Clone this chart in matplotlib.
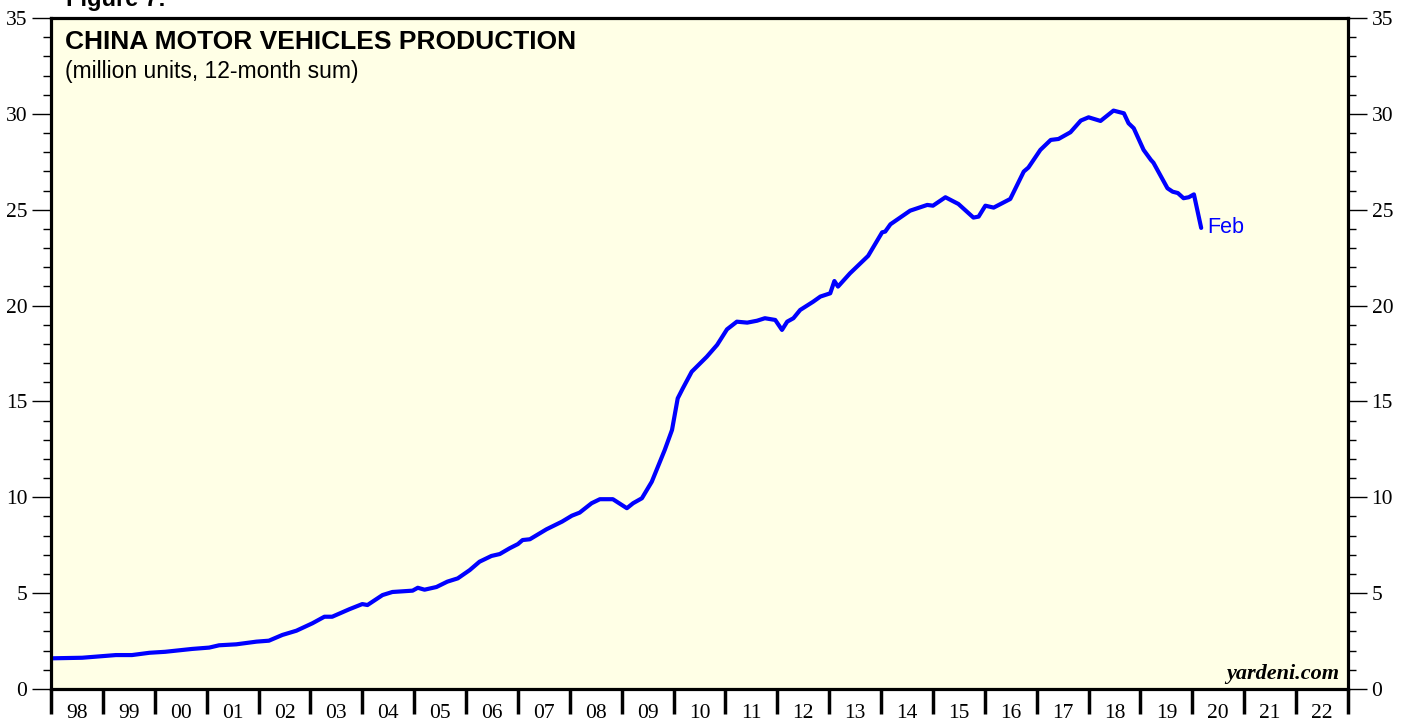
import numpy as np
import matplotlib
matplotlib.use("Agg")
import matplotlib.pyplot as plt
from matplotlib.ticker import MultipleLocator, FixedLocator, NullFormatter

# ── DATA (decimal year, million units) ─────────────────────────
dates = [
    1998.00, 1998.60, 1999.25, 1999.56, 1999.90, 2000.20, 2000.72, 2001.05,
    2001.24, 2001.57, 2001.96, 2002.20, 2002.46, 2002.73, 2003.04, 2003.27,
    2003.42, 2003.75, 2004.00, 2004.10, 2004.39, 2004.58, 2004.97, 2005.07,
    2005.20, 2005.43, 2005.64, 2005.84, 2006.07, 2006.26, 2006.49, 2006.65,
    2006.84, 2007.00, 2007.09, 2007.23, 2007.55, 2007.85, 2008.04, 2008.19,
    2008.42, 2008.58, 2008.83, 2009.10, 2009.22, 2009.39, 2009.58, 2009.83,
    2009.97, 2010.08, 2010.18, 2010.35, 2010.64, 2010.84, 2011.03, 2011.22,
    2011.42, 2011.61, 2011.76, 2011.96, 2012.09, 2012.19, 2012.31, 2012.44,
    2012.69, 2012.83, 2013.02, 2013.10, 2013.17, 2013.40, 2013.75, 2014.02,
    2014.08, 2014.18, 2014.56, 2014.89, 2015.00, 2015.24, 2015.49, 2015.78,
    2015.88, 2016.01, 2016.17, 2016.49, 2016.75, 2016.84, 2017.07, 2017.27,
    2017.42, 2017.65, 2017.85, 2018.00, 2018.23, 2018.48, 2018.68, 2018.77,
    2018.87, 2019.06, 2019.20, 2019.25, 2019.52, 2019.62, 2019.72, 2019.83,
    2019.93, 2020.03, 2020.17,
]
production = [
    1.60, 1.63, 1.77, 1.77, 1.89, 1.94, 2.09, 2.16,
    2.28, 2.33, 2.47, 2.52, 2.82, 3.04, 3.43, 3.77,
    3.77, 4.16, 4.43, 4.38, 4.90, 5.06, 5.13, 5.28,
    5.18, 5.32, 5.60, 5.77, 6.20, 6.64, 6.94, 7.04,
    7.34, 7.56, 7.77, 7.81, 8.33, 8.73, 9.04, 9.20,
    9.69, 9.90, 9.90, 9.43, 9.69, 9.95, 10.81, 12.47,
    13.51, 15.16, 15.69, 16.55, 17.33, 17.95, 18.76, 19.16,
    19.11, 19.21, 19.34, 19.25, 18.73, 19.16, 19.34, 19.77,
    20.20, 20.47, 20.64, 21.28, 20.99, 21.68, 22.59, 23.82,
    23.86, 24.24, 24.95, 25.25, 25.21, 25.65, 25.30, 24.59,
    24.64, 25.21, 25.11, 25.56, 26.99, 27.20, 28.12, 28.64,
    28.69, 29.04, 29.65, 29.82, 29.63, 30.17, 30.03, 29.51,
    29.25, 28.12, 27.60, 27.45, 26.12, 25.94, 25.87, 25.60,
    25.65, 25.80, 24.05,
]
years = list(range(1998, 2023))
year_labels = [f"{y % 100:02d}" for y in years]

TITLE = "CHINA MOTOR VEHICLES PRODUCTION"
SUBTITLE = "(million units, 12-month sum)"
LAST_LABEL = "Feb"

# ── FIGURE ───────────────────────────────────────────────────
fig = plt.figure(figsize=(14.08, 7.21), dpi=100)
ax = fig.add_axes([51 / 1408, 1 - 689 / 721, (1348 - 51) / 1408, (689 - 18) / 721])
ax.set_facecolor("#FFFFE6")

ax.plot(dates, production, color="#0000FF", lw=3.0, solid_joinstyle="round",
        solid_capstyle="round")
ax.text(dates[-1] + 0.12, production[-1], LAST_LABEL, color="#0000FF",
        fontsize=15.5, family="Liberation Sans", va="center", ha="left")

ax.set_xlim(1998, 2023)
ax.set_ylim(0, 35)

# y axis: ticks both sides, outward
ax.yaxis.set_major_locator(MultipleLocator(5))
ax.yaxis.set_minor_locator(MultipleLocator(1))
ax.tick_params(axis="y", which="major", direction="out", length=14, width=1,
               left=True, right=True, labelleft=True, labelright=True,
               labelsize=15.5, pad=3)
ax.tick_params(axis="y", which="minor", direction="out", length=6, width=1,
               left=True, right=True)

# x axis: thick ticks at year boundaries, labels mid-year
ax.xaxis.set_major_locator(FixedLocator(list(range(1998, 2024))))
ax.xaxis.set_major_formatter(NullFormatter())
ax.xaxis.set_minor_locator(FixedLocator([y + 0.5 for y in years]))
ax.set_xticklabels(year_labels, minor=True)
ax.tick_params(axis="x", which="major", direction="out", length=18, width=2.5)
ax.tick_params(axis="x", which="minor", length=0, labelsize=15.5, pad=11)

for lab in ax.get_xticklabels(minor=True):
    lab.set_family("Liberation Serif")
for t in ax.yaxis.get_major_ticks():
    t.label1.set_family("Liberation Serif")
    t.label2.set_family("Liberation Serif")

for side in ["left", "right", "top", "bottom"]:
    ax.spines[side].set_linewidth(2.3)
    ax.spines[side].set_color("black")

# titles and credits
ax.text(0.011, 0.982, TITLE, transform=ax.transAxes, fontsize=19,
        fontweight="bold", family="Liberation Sans", va="top", ha="left")
ax.text(0.011, 0.937, SUBTITLE, transform=ax.transAxes, fontsize=16.5,
        family="Liberation Sans", va="top", ha="left")
ax.text(0.993, 0.008, "yardeni.com", transform=ax.transAxes, fontsize=16,
        fontweight="bold", style="italic", family="Liberation Serif",
        va="bottom", ha="right")
fig.text(66 / 1408, 1 - 6 / 721, "Figure 7:", fontsize=17, fontweight="bold",
         family="Liberation Sans", va="baseline", ha="left")

fig.savefig("out.png", dpi=100, facecolor="white")
